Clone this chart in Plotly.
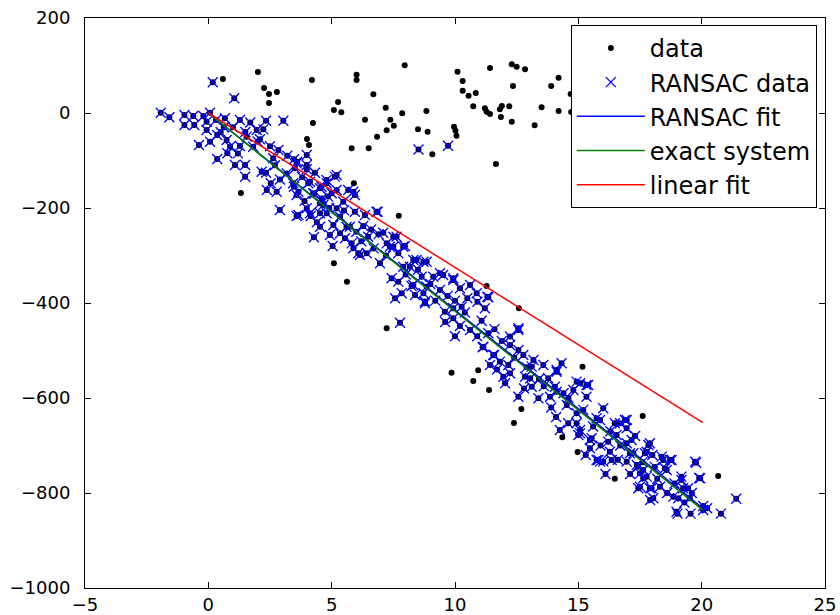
import plotly.graph_objects as go

# ---- data ----
# points rejected by RANSAC (shown only as black dots)
outlier_x = [0.59, 2.01, 2.26, 2.46, 2.78, 2.46, 4.20, 5.26, 5.09, 4.24, 4.00, 4.08, 1.32,
             7.96, 6.01, 6.01, 6.69, 5.39, 7.19, 7.86, 6.35, 7.38, 7.52, 7.23, 6.84, 5.81,
             6.50, 8.84, 8.50, 8.89, 9.08, 9.96, 10.02, 10.06, 10.10, 10.31, 10.31, 10.55,
             10.84, 10.74, 11.42, 12.30, 12.50, 12.84, 12.35, 11.21, 11.28, 11.42, 11.82,
             11.90, 12.20, 11.86, 12.30, 13.23, 13.51, 13.90, 14.20, 14.20, 14.69, 14.71,
             11.66, 5.90, 7.72, 5.09, 5.62, 7.23, 11.28, 12.59, 15.17, 9.86, 10.94, 10.74,
             11.38, 12.69, 12.39, 14.35, 14.97, 17.61, 16.48, 20.67]
outlier_y = [71.6, 86.3, 52.6, 40.0, 44.2, 21.1, 69.5, 23.2, 6.3, -21.0, -54.7, -67.4, -168.4,
             100.4, 80.7, 69.5, 39.4, 1.5, 11.2, -0.7, -14.0, -14.0, -26.7, -36.5, -49.8, -74.4,
             -74.4, 4.2, -34.4, -39.3, -87.0, -28.8, -37.3, -47.7, 87.0, 67.4, 47.0, 36.5,
             42.1, 14.0, 94.7, 102.5, 97.5, 92.0, 56.8, 10.0, 2.7, -2.0, 7.8,
             14.7, 14.0, -8.4, -18.3, -26.0, 12.0, 56.8, 74.3, 4.2, 40.0, 2.1,
             -107.4, -148.0, -216.2, -316.4, -355.0, -453.3, -364.2, -411.2, -534.0, -546.7, -541.7, -564.2,
             -583.0, -623.0, -652.6, -682.7, -713.7, -637.9, -769.8, -764.2]

# points kept by RANSAC (black dot + blue cross)
inlier_x = [-1.93, -1.58, -0.97, -0.61, -0.20, 0.07, -0.97, -0.57, -0.07, 0.67, 1.28, 0.18, 1.05,
            2.34, 3.04, -0.38, 0.07, 0.36, 0.74, 0.36, 0.77, 1.08, 1.49, 1.28, 0.88, 1.55, 1.96,
            2.23, 2.09, 1.82, 1.49, 2.16, 2.34, 2.63, 2.84, 2.53, 2.77, 2.37, 2.90, 3.18, 3.47,
            3.58, 3.99, 3.99, 3.47, 3.58, 4.05, 4.25, 4.59, 4.79, 4.86, 5.13, 4.53, 3.65, 4.12,
            4.53, 0.31, 0.63, -0.07,
            3.60, 3.51, 3.99, 4.32, 5.20, 3.44, 3.65, 4.12, 4.53, 4.80, 5.00, 5.67, 5.94, 5.47,
            5.20, 4.66, 3.99, 3.58, 4.15, 4.80, 5.34, 5.94, 6.35, 6.86, 4.53, 5.07, 5.74, 6.28,
            4.28, 4.93, 5.54, 5.81, 5.04, 6.48, 7.09, 7.50, 7.97, 7.50, 7.23, 6.42, 6.96, 7.70,
            8.17, 8.44, 8.85, 6.08, 8.52, 9.72, 5.20,
            5.34, 5.88, 6.15, 7.36, 7.63, 7.90, 7.43, 7.70, 7.57, 7.84, 8.24, 8.38, 8.31, 8.72,
            8.65, 8.85, 8.78, 7.77,
            7.90, 9.12, 9.52, 9.93, 8.31, 8.72, 9.39, 10.20, 10.61, 10.88, 11.31, 8.78, 9.59,
            9.93, 10.27, 10.91, 11.21, 9.93, 10.20, 10.61, 11.08, 11.35, 11.12, 11.55, 11.42,
            11.82, 12.16, 12.23, 12.57, 12.23, 12.57, 12.77, 13.18, 13.11, 12.84, 11.96, 12.23,
            12.03, 13.05, 13.11, 13.58, 13.78, 14.12, 14.05, 13.38, 13.85, 12.57, 14.12,
            9.39, 9.93, 11.35, 12.57, 11.15, 11.59, 14.32, 14.12, 14.93, 15.33,
            14.53, 14.93, 14.25, 14.59, 15.07, 15.47, 15.47, 15.88, 16.01, 16.21, 15.81, 16.28,
            16.69, 16.96, 16.55, 16.96, 17.23, 17.77, 17.90, 18.38, 18.78, 17.37, 17.63, 17.50,
            17.90, 18.31, 18.04, 17.77, 18.58, 18.85, 18.98, 14.80, 15.07, 15.40, 15.33, 15.74,
            16.48, 16.96, 15.00, 15.54, 14.93, 15.88,
            16.89, 17.16, 17.84, 17.70, 16.96, 17.43, 17.63, 17.43, 17.97, 17.91, 18.44, 18.72,
            18.51, 19.18, 19.25, 19.45, 19.05, 19.52, 19.77, 19.90, 20.06, 20.22, 19.02, 19.55,
            20.78, 21.40,
            15.07, 15.74, 16.01, 16.35, 17.09, 17.50, 19.73, 19.94, 19.18, 20.06,
            5.88, 6.82,
            1.00, 1.50, 2.00, 2.50, 1.20, 0.50, 1.70, 2.70, 3.20, 2.90,
            3.80, 4.30, 4.60, 4.90, 5.50, 4.40, 3.90, 5.60, 6.00, 6.60, 6.20, 6.70, 7.20, 6.90,
            8.00, 8.50, 9.00, 9.20, 9.70, 10.00, 10.40, 10.50, 9.60, 10.00, 10.90, 11.60, 11.90,
            11.70, 12.40, 12.90, 12.80, 13.40, 13.60,
            14.40, 14.60, 13.90, 14.10, 15.20, 15.60, 15.90, 16.30, 16.70, 16.60, 17.30, 17.10,
            17.60, 18.10, 18.20, 18.60, 19.30, 18.90, 19.60, 16.10, 15.30, 18.00]
inlier_y = [0.6, -9.0, -4.2, -6.3, -6.3, 0.6, -25.3, -25.3, -35.8, -11.2, -14.7, 64.6, 31.0,
            -16.2, -16.2, -67.4, -60.4, -46.3, -56.8, -96.8, -84.9, -109.5, -109.5, -69.5, -71.0, -49.8, -35.8,
            -34.4, -55.4, -71.0, -134.1, -123.6, -125.7, -95.4, -77.9, -148.0, -165.7, -162.0, -204.2, -127.2, -97.5,
            -106.0, -88.4, -109.5, -155.2, -172.6, -148.0, -169.0, -155.2, -141.0, -176.0, -134.0, -190.0, -214.7, -211.0,
            -211.0, -14.7, -30.0, -18.3,
            -102.5, -116.4, -118.5, -125.7, -130.5, -148.0, -165.7, -144.6, -158.5, -148.0, -169.0, -162.0, -172.6, -186.7,
            -200.7, -193.7, -200.7, -216.8, -216.8, -211.0, -218.3, -207.8, -214.7, -207.8, -239.4, -235.8, -239.4, -237.9,
            -261.7, -256.8, -263.8, -274.4, -280.0, -260.4, -252.0, -260.4, -280.0, -281.5, -274.4, -295.4, -316.4, -295.4,
            -323.6, -309.5, -313.0, -295.4, -77.0, -69.0, -162.0,
            -253.3, -284.9, -299.0, -281.5, -260.4, -281.5, -348.0, -355.0, -390.0, -379.6, -364.2, -383.0, -309.5, -313.0,
            -344.6, -365.6, -397.0, -441.5,
            -323.6, -344.6, -341.0, -348.0, -362.0, -379.6, -372.6, -369.0, -362.0, -379.6, -386.7, -400.6, -418.2,
            -411.2, -407.8, -397.2, -411.2, -432.2, -448.4, -456.8, -437.3, -463.8, -493.3, -509.5, -530.5,
            -523.5, -530.5, -470.5, -456.8, -488.4, -499.0, -509.5, -520.0, -534.0, -555.2, -555.2, -548.0,
            -569.0, -558.5, -576.2, -530.5, -558.5, -541.0, -576.2, -600.6, -597.2, -597.2, -586.7,
            -337.5, -351.6, -388.0, -453.3, -492.0, -509.5, -527.0, -544.6, -565.6, -572.6,
            -614.7, -632.0, -667.4, -653.3, -674.4, -688.4, -705.9, -646.3, -621.7, -691.9, -730.5, -713.0,
            -653.3, -646.3, -677.9, -695.4, -716.4, -713.0, -695.4, -723.5, -730.5, -741.0, -751.6, -786.7,
            -790.0, -786.7, -811.2, -765.6, -751.6, -807.7, -839.3, -583.0, -569.0, -572.6, -597.2, -642.7,
            -653.3, -663.8, -677.9, -684.9, -653.3, -734.0,
            -646.3, -688.4, -698.9, -716.4, -734.0, -744.5, -769.0, -790.0, -790.0, -814.7, -730.5, -730.5,
            -748.0, -765.6, -790.0, -790.0, -811.2, -811.2, -736.2, -768.4, -827.4, -832.0, -843.5, -843.5,
            -843.5, -812.0,
            -667.4, -730.5, -734.0, -730.5, -716.4, -758.6, -734.0, -769.0, -772.6, -835.8,
            -165.7, -207.8,
            -30.0, -40.0, -60.0, -70.0, -85.0, -40.0, -20.0, -110.0, -90.0, -140.0,
            -135.0, -170.0, -180.0, -200.0, -205.0, -230.0, -185.0, -240.0, -250.0, -245.0, -270.0, -285.0, -300.0, -255.0,
            -340.0, -330.0, -360.0, -395.0, -385.0, -395.0, -420.0, -390.0, -440.0, -470.0, -470.0, -455.0, -480.0,
            -540.0, -515.0, -535.0, -580.0, -560.0, -575.0,
            -590.0, -600.0, -620.0, -640.0, -625.0, -660.0, -700.0, -670.0, -700.0, -730.0, -680.0, -760.0,
            -735.0, -745.0, -770.0, -800.0, -820.0, -780.0, -800.0, -760.0, -720.0, -720.0]

# fitted models (y = slope * x), drawn over the span of the exact x values
line_x = [0.0, 20.05]
ransac_slope = -41.5
exact_slope = -41.7
linear_slope = -32.5

x_ticks = [-5, 0, 5, 10, 15, 20, 25]
y_ticks = [-1000, -800, -600, -400, -200, 0, 200]

data_x = outlier_x + inlier_x
data_y = outlier_y + inlier_y

FONT = "DejaVu Sans"


def tick_text(v):
    return str(v) if v >= 0 else "\u2212" + str(-v)


fig = go.Figure()
fig.add_trace(go.Scatter(x=data_x, y=data_y, mode="markers", name="data",
                         marker=dict(color="black", size=6, line=dict(width=0))))
fig.add_trace(go.Scatter(x=inlier_x, y=inlier_y, mode="markers", name="RANSAC data",
                         marker=dict(symbol="x-thin", color="#0000ff", size=10,
                                     line=dict(color="#0000ff", width=1.3))))
fig.add_trace(go.Scatter(x=line_x, y=[ransac_slope * v for v in line_x], mode="lines",
                         name="RANSAC fit", line=dict(color="#0000ff", width=1.5)))
fig.add_trace(go.Scatter(x=line_x, y=[exact_slope * v for v in line_x], mode="lines",
                         name="exact system", line=dict(color="#008000", width=1.5)))
fig.add_trace(go.Scatter(x=line_x, y=[linear_slope * v for v in line_x], mode="lines",
                         name="linear fit", line=dict(color="#ff0000", width=1.5)))

axis_common = dict(showgrid=False, zeroline=False, showline=True, linecolor="black",
                   linewidth=1, mirror="allticks", ticks="inside", ticklen=6,
                   tickcolor="black", tickwidth=1,
                   tickfont=dict(family=FONT, size=18, color="black"),
                   automargin=False)

fig.update_layout(
    width=840, height=615,
    margin=dict(l=85, r=15, t=18, b=27),
    paper_bgcolor="white", plot_bgcolor="white",
    font=dict(family=FONT, color="black"),
    xaxis=dict(range=[-5, 25], tickvals=x_ticks, ticktext=[tick_text(v) for v in x_ticks], **axis_common),
    yaxis=dict(range=[-1000, 200], tickvals=y_ticks, ticktext=[tick_text(v) for v in y_ticks],
               ticklabelstandoff=10, **axis_common),
    legend=dict(x=0.989, xanchor="right", y=0.988, yanchor="top",
                bgcolor="white", bordercolor="black", borderwidth=1,
                font=dict(family=FONT, size=24, color="black"),
                itemwidth=68),
    showlegend=True,
)

fig.write_html("out.html")
